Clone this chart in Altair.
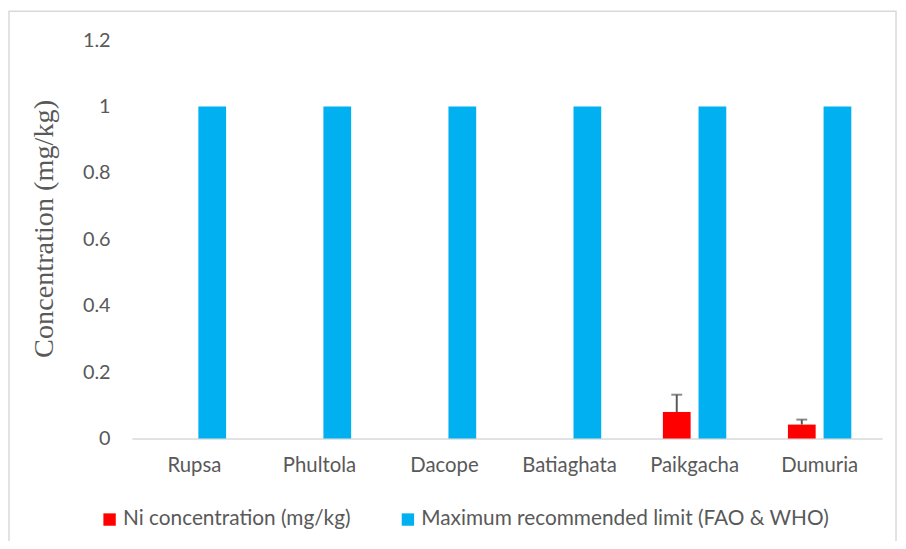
import altair as alt
import pandas as pd

locations = ["Rupsa", "Phultola", "Dacope", "Batiaghata", "Paikgacha", "Dumuria"]
ni_values = [0.0, 0.0, 0.0, 0.0, 0.08, 0.042]
ni_errors = [0.0, 0.0, 0.0, 0.0, 0.052, 0.015]
limit_values = [1.0, 1.0, 1.0, 1.0, 1.0, 1.0]
series_names = ["Ni concentration (mg/kg)", "Maximum recommended limit (FAO & WHO)"]
series_colors = ["#ff0000", "#00b0f0"]

rows = []
for loc, v, e, lim in zip(locations, ni_values, ni_errors, limit_values):
    rows.append({"Location": loc, "Series": series_names[0], "Value": v, "Upper": v + e, "Err": e})
    rows.append({"Location": loc, "Series": series_names[1], "Value": lim, "Upper": lim, "Err": 0.0})
df = pd.DataFrame(rows)

grey = "#595959"
x = alt.X("Location:N", sort=locations, title=None,
          scale=alt.Scale(paddingInner=0.493, paddingOuter=0.2465),
          axis=alt.Axis(labelAngle=0, labelFont="Lato", labelFontSize=20.5, labelColor=grey,
                        ticks=False, domainColor="#d9d9d9", domainWidth=1.5, labelPadding=17))
xoff = alt.XOffset("Series:N", sort=series_names,
                   scale=alt.Scale(domain=series_names, paddingInner=0.222, paddingOuter=0))
y = alt.Y("Value:Q", title="Concentration (mg/kg)",
          scale=alt.Scale(domain=[0, 1.2], nice=False),
          axis=alt.Axis(values=[0, 0.2, 0.4, 0.6, 0.8, 1.0, 1.2], format=".1~f", grid=False,
                        domain=False, ticks=False, labelFont="Lato", labelFontSize=20,
                        labelColor=grey, labelPadding=22, titleFont="Liberation Serif",
                        titleFontSize=28.5, titleFontWeight="normal", titleColor=grey,
                        titlePadding=24, titleY=190))

border = alt.Chart(pd.DataFrame({"a": [0]})).mark_rect(
    fill=None, stroke="#d9d9d9", strokeWidth=1.5
).encode(x=alt.value(-124), x2=alt.value(771), y=alt.value(-29), y2=alt.value(600))

bars = alt.Chart(df).mark_bar().encode(
    x=x, xOffset=xoff, y=y,
    color=alt.Color("Series:N", sort=series_names,
                    scale=alt.Scale(domain=series_names, range=series_colors),
                    legend=alt.Legend(title=None, orient="none", legendX=-33, legendY=473,
                                      direction="horizontal", symbolType="square",
                                      symbolSize=156, symbolStrokeWidth=0,
                                      labelFont="Lato", labelFontSize=21, labelColor=grey,
                                      columnPadding=47, labelOffset=3, labelLimit=500)),
)

err_df = df[(df["Series"] == series_names[0]) & (df["Err"] > 0)]
err_rule = alt.Chart(err_df).mark_rule(color=grey, strokeWidth=2).encode(
    x=alt.X("Location:N", sort=locations), xOffset=alt.XOffset("Series:N", sort=series_names),
    y="Value:Q", y2="Upper:Q")
err_cap = alt.Chart(err_df).mark_tick(color=grey, thickness=2, size=11, orient="horizontal").encode(
    x=alt.X("Location:N", sort=locations), xOffset=alt.XOffset("Series:N", sort=series_names),
    y="Upper:Q")

chart = alt.layer(border, bars, err_rule, err_cap).properties(
    width=757, height=402,
    autosize=alt.AutoSizeParams(type="none"),
    padding={"left": 125, "top": 30, "right": 16, "bottom": 101},
).configure(background="white").configure_view(strokeWidth=0, stroke="transparent")

chart.save("out.html", embed_options={"renderer": "svg", "actions": False})
